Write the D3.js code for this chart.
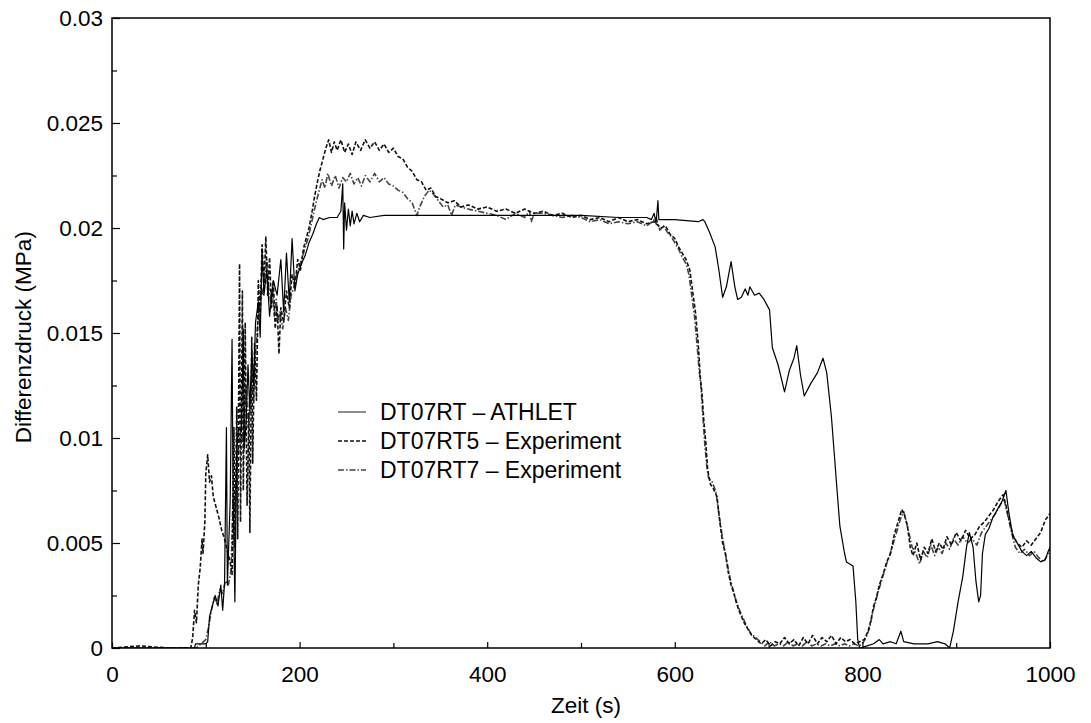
<!DOCTYPE html>
<html>
<head>
<meta charset="utf-8">
<script src="https://cdn.jsdelivr.net/npm/d3@7"></script>
<style>
  body { margin: 0; background: #fff; }
  svg { font-family: "Liberation Sans", Arial, sans-serif; }
</style>
</head>
<body>
<div id="chart"></div>
<script>
// ticks
const xTicks = [0, 200, 400, 600, 800, 1000];
const xMinor = [100, 300, 500, 700, 900];
const yTicks = [0, 0.005, 0.01, 0.015, 0.02, 0.025, 0.03];
const yMinor = [0.0025, 0.0075, 0.0125, 0.0175, 0.0225, 0.0275];

const seriesNames = ["DT07RT \u2013 ATHLET", "DT07RT5 \u2013 Experiment", "DT07RT7 \u2013 Experiment"];

// [time (s), pressure difference (MPa)]
const athlet = [
  [0, 0], [40, 0], [88, 0], [89, 0.0002], [100, 0.0002], [102, 0.0003], [104, 0.0015], [107, 0.002],
  [110, 0.0025], [113, 0.002], [116, 0.003], [118, 0.0018], [120, 0.0031], [122, 0.0105], [123, 0.003],
  [126, 0.007], [128, 0.0147], [129, 0.0075], [131, 0.0022], [133, 0.0095], [135, 0.0105], [138, 0.0103],
  [140, 0.0152], [141, 0.0095], [143, 0.0108], [145, 0.0135], [147, 0.0112], [149, 0.0142], [151, 0.0125],
  [153, 0.0155], [156, 0.0165], [158, 0.0148], [160, 0.019], [162, 0.0168], [165, 0.018], [168, 0.0158],
  [172, 0.0175], [176, 0.0168], [180, 0.0185], [183, 0.016], [186, 0.0188], [189, 0.0165], [192, 0.0195],
  [195, 0.017], [198, 0.0178], [202, 0.0183], [206, 0.0187], [210, 0.0193], [214, 0.0197], [218, 0.0202],
  [221, 0.0205], [225, 0.0204], [232, 0.0205], [240, 0.0205], [244, 0.0208], [246, 0.0221], [247, 0.019],
  [248, 0.0212], [250, 0.0199], [252, 0.0209], [254, 0.0201], [256, 0.0208], [258, 0.0202], [261, 0.0207],
  [264, 0.0203], [268, 0.0206], [275, 0.0205], [290, 0.0206], [350, 0.0206], [400, 0.0206], [450, 0.0206],
  [500, 0.0206], [540, 0.0205], [570, 0.0205], [575, 0.0204], [578, 0.0207], [580, 0.0202], [582, 0.0213],
  [583, 0.0204], [600, 0.0204], [625, 0.0203], [630, 0.0204], [632, 0.0203], [637, 0.0198], [643, 0.0191],
  [647, 0.018], [651, 0.0167], [655, 0.0172], [660, 0.0184], [664, 0.0172], [667, 0.0166], [671, 0.0167],
  [675, 0.0171], [678, 0.0168], [680, 0.0172], [685, 0.0168], [690, 0.0169], [695, 0.0166], [701, 0.0161],
  [704, 0.0143], [710, 0.0135], [717, 0.0122], [722, 0.0132], [727, 0.0138], [730, 0.0144], [734, 0.013],
  [738, 0.012], [745, 0.0126], [752, 0.0131], [758, 0.0138], [762, 0.0131], [767, 0.011], [773, 0.0075],
  [776, 0.0058], [781, 0.0045], [783, 0.0041], [790, 0.0039], [793, 0.0022], [795, 0.0004], [797, 0],
  [805, 0.0001], [812, 0.0002], [818, 0.0004], [822, 0.0002], [830, 0.0003], [836, 0.0002], [841, 0.0008],
  [844, 0.0003], [855, 0.0002], [870, 0.0002], [880, 0.0003], [888, 0.0002], [893, 0], [897, 0.0008],
  [902, 0.0022], [907, 0.0034], [911, 0.0048], [914, 0.0055], [918, 0.0048], [921, 0.0032], [924, 0.0022],
  [926, 0.0025], [928, 0.0045], [931, 0.0054], [935, 0.0057], [939, 0.0062], [944, 0.0066], [949, 0.007],
  [953, 0.0075], [956, 0.0065], [960, 0.0054], [965, 0.005], [970, 0.0046], [975, 0.0044], [980, 0.0046],
  [985, 0.0043], [990, 0.0041], [995, 0.0042], [998, 0.0046], [1000, 0.0048]
];

const rt5 = [
  [0, 0], [30, 0.0001], [60, 0], [84, 0], [86, 0.0005], [88, 0.0018], [90, 0.0012], [92, 0.003], [94, 0.0038],
  [96, 0.0052], [97, 0.0045], [99, 0.006], [100, 0.0083], [102, 0.0092], [104, 0.0079], [106, 0.0082],
  [108, 0.0072], [111, 0.0067], [114, 0.0062], [117, 0.0056], [120, 0.0052], [123, 0.0046], [126, 0.0041],
  [128, 0.0035], [130, 0.0105], [131, 0.0048], [133, 0.0115], [134, 0.0052], [136, 0.0183], [137, 0.006],
  [139, 0.017], [140, 0.0075], [142, 0.0155], [144, 0.0068], [146, 0.0112], [147, 0.0055], [149, 0.0148],
  [150, 0.0088], [152, 0.0145], [154, 0.0118], [156, 0.0175], [158, 0.0158], [160, 0.0192], [162, 0.0172],
  [164, 0.0196], [166, 0.0168], [168, 0.0186], [170, 0.0162], [172, 0.0175], [174, 0.0152], [176, 0.0163],
  [178, 0.014], [180, 0.0162], [183, 0.0155], [186, 0.017], [189, 0.0162], [192, 0.0178], [195, 0.0172],
  [198, 0.0185], [201, 0.018], [204, 0.019], [207, 0.0195], [210, 0.02], [213, 0.0207], [216, 0.0215],
  [219, 0.0222], [222, 0.0228], [225, 0.0233], [228, 0.0238], [231, 0.0242], [234, 0.0236], [237, 0.0241],
  [240, 0.0237], [244, 0.0242], [248, 0.0236], [252, 0.024], [256, 0.0235], [260, 0.0241], [265, 0.0237],
  [270, 0.0242], [275, 0.0238], [280, 0.0241], [285, 0.0237], [290, 0.024], [295, 0.0236], [300, 0.0238],
  [305, 0.0234], [310, 0.0233], [315, 0.0229], [320, 0.0227], [325, 0.0223], [330, 0.0222], [335, 0.0218],
  [340, 0.0219], [345, 0.0215], [350, 0.0214], [358, 0.0212], [365, 0.0213], [372, 0.021], [380, 0.0211],
  [390, 0.0209], [400, 0.021], [410, 0.0208], [420, 0.0209], [430, 0.0207], [440, 0.0209], [450, 0.0207],
  [460, 0.0208], [470, 0.0206], [480, 0.0207], [490, 0.0205], [500, 0.0206], [510, 0.0204], [520, 0.0205],
  [530, 0.0203], [540, 0.0205], [550, 0.0203], [560, 0.0204], [570, 0.0202], [578, 0.0203], [585, 0.02],
  [590, 0.0201], [595, 0.0197], [600, 0.0195], [604, 0.0191], [608, 0.0188], [612, 0.0185], [616, 0.018],
  [619, 0.017], [622, 0.016], [625, 0.0145], [627, 0.013], [629, 0.0121], [631, 0.0108], [633, 0.0098],
  [635, 0.0085], [638, 0.0078], [641, 0.0076], [645, 0.0072], [648, 0.006], [651, 0.005], [654, 0.0045],
  [657, 0.0036], [660, 0.003], [663, 0.0026], [666, 0.0021], [670, 0.0016], [674, 0.0012], [678, 0.0009],
  [682, 0.0006], [687, 0.0004], [692, 0.0002], [697, 0.0004], [702, 0.0001], [707, 0.0003], [712, 0.0002],
  [717, 0.0005], [722, 0.0002], [727, 0.0004], [732, 0.0001], [737, 0.0005], [742, 0.0002], [747, 0.0006],
  [752, 0.0002], [757, 0.0005], [762, 0.0003], [767, 0.0006], [772, 0.0002], [777, 0.0005], [782, 0.0003],
  [787, 0.0004], [792, 0.0002], [797, 0.0003], [802, 0.0004], [806, 0.0008], [809, 0.0013], [812, 0.002],
  [815, 0.0024], [818, 0.003], [822, 0.0035], [826, 0.0041], [830, 0.0045], [834, 0.0054], [838, 0.006],
  [842, 0.0066], [845, 0.0063], [848, 0.0058], [851, 0.0048], [854, 0.0044], [858, 0.005], [862, 0.0042],
  [866, 0.0048], [870, 0.0045], [874, 0.0052], [878, 0.0046], [882, 0.005], [886, 0.0047], [890, 0.0053],
  [895, 0.0049], [900, 0.0055], [905, 0.0051], [910, 0.0056], [915, 0.0052], [920, 0.0054], [925, 0.0058],
  [930, 0.006], [935, 0.0063], [940, 0.0066], [945, 0.007], [950, 0.0073], [953, 0.0068], [957, 0.006],
  [961, 0.0053], [965, 0.005], [970, 0.0048], [975, 0.0051], [980, 0.0049], [985, 0.0052], [990, 0.0055],
  [995, 0.0061], [1000, 0.0064]
];

const rt7 = [
  [0, 0], [90, 0], [95, 0.0002], [100, 0.0004], [103, 0.001], [106, 0.0018], [109, 0.0024], [112, 0.0021],
  [115, 0.0028], [118, 0.0026], [121, 0.0032], [124, 0.003], [127, 0.0037], [129, 0.0072], [131, 0.0065],
  [133, 0.0087], [135, 0.0095], [137, 0.0105], [139, 0.0098], [141, 0.0108], [143, 0.0125], [145, 0.0105],
  [147, 0.012], [149, 0.013], [151, 0.0118], [153, 0.014], [155, 0.0152], [157, 0.0162], [159, 0.0172],
  [161, 0.0168], [163, 0.0178], [165, 0.0185], [167, 0.0172], [169, 0.0165], [171, 0.0172], [173, 0.0158],
  [175, 0.0166], [177, 0.0155], [179, 0.016], [182, 0.0152], [185, 0.0162], [188, 0.0156], [191, 0.0168],
  [194, 0.0172], [197, 0.0178], [200, 0.0182], [203, 0.0186], [206, 0.0191], [209, 0.0195], [212, 0.0201],
  [215, 0.0207], [218, 0.0213], [221, 0.0218], [224, 0.0223], [227, 0.0219], [230, 0.0226], [234, 0.022],
  [238, 0.0225], [242, 0.0219], [246, 0.0224], [250, 0.0222], [254, 0.0226], [258, 0.0221], [262, 0.0224],
  [266, 0.022], [270, 0.0225], [275, 0.0222], [280, 0.0226], [285, 0.0222], [290, 0.0224], [295, 0.0221],
  [300, 0.022], [305, 0.0218], [310, 0.0217], [315, 0.0214], [320, 0.0212], [325, 0.0206], [328, 0.021],
  [333, 0.0215], [338, 0.0218], [343, 0.0216], [348, 0.0213], [353, 0.021], [358, 0.0211], [362, 0.0206],
  [366, 0.0211], [372, 0.021], [380, 0.0209], [390, 0.0208], [400, 0.0207], [410, 0.0206], [420, 0.0204],
  [430, 0.0207], [440, 0.0205], [445, 0.0208], [447, 0.0203], [450, 0.0207], [460, 0.0207], [470, 0.0206],
  [480, 0.0205], [490, 0.0206], [500, 0.0205], [510, 0.0203], [520, 0.0204], [530, 0.0202], [540, 0.0203],
  [550, 0.0202], [560, 0.0203], [570, 0.0201], [576, 0.0203], [580, 0.0205], [584, 0.0199], [588, 0.0201],
  [592, 0.0198], [596, 0.0196], [600, 0.0193], [604, 0.019], [608, 0.0186], [612, 0.0183], [615, 0.0178],
  [618, 0.0168], [621, 0.0158], [624, 0.0143], [626, 0.0132], [628, 0.0124], [630, 0.011], [632, 0.0097],
  [634, 0.0087], [636, 0.0081], [640, 0.0079], [644, 0.0074], [647, 0.0064], [650, 0.0055], [653, 0.0047],
  [656, 0.004], [659, 0.0033], [662, 0.0028], [665, 0.0023], [669, 0.0018], [673, 0.0014], [677, 0.001],
  [681, 0.0007], [686, 0.0005], [691, 0.0003], [696, 0.0001], [701, 0.0003], [706, 0.0001], [711, 0.0002],
  [716, 0.0001], [721, 0.0003], [726, 0.0001], [731, 0.0002], [736, 0.0001], [741, 0.0003], [746, 0.0001],
  [751, 0.0002], [756, 0.0001], [761, 0.0002], [766, 0.0001], [771, 0.0002], [776, 0.0001], [781, 0.0002],
  [786, 0.0001], [791, 0.0002], [796, 0.0001], [800, 0.0002], [804, 0.0005], [808, 0.001], [811, 0.0017],
  [814, 0.0022], [817, 0.0027], [821, 0.0033], [825, 0.0039], [829, 0.0044], [833, 0.005], [837, 0.0056],
  [841, 0.0062], [844, 0.0065], [847, 0.006], [850, 0.0054], [853, 0.0048], [857, 0.0045], [861, 0.004],
  [865, 0.0046], [869, 0.0043], [873, 0.0049], [877, 0.0044], [881, 0.0048], [885, 0.0045], [889, 0.005],
  [893, 0.0047], [897, 0.0052], [902, 0.0049], [907, 0.0053], [912, 0.005], [917, 0.0052], [922, 0.0049],
  [927, 0.0055], [932, 0.0058], [937, 0.0061], [942, 0.0064], [947, 0.0068], [951, 0.0071], [955, 0.0063],
  [959, 0.0055], [963, 0.0048], [968, 0.0045], [973, 0.0047], [978, 0.0044], [983, 0.0046], [988, 0.0043],
  [993, 0.0041], [997, 0.0044], [1000, 0.0047]
];

let width = 1091, height = 723;
let margin = {top: 18, right: 41, bottom: 75, left: 112};
let w = width - margin.left - margin.right,
    h = height - margin.top - margin.bottom;

let x = d3.scaleLinear().domain([0, 1000]).range([0, w]);
let y = d3.scaleLinear().domain([0, 0.03]).range([h, 0]);

let svg = d3.select("#chart").append("svg")
  .attr("width", width)
  .attr("height", height);
let g = svg.append("g")
  .attr("transform", "translate(" + margin.left + "," + margin.top + ")");

let line = d3.line()
  .x((d) => x(d[0]))
  .y((d) => y(d[1]));

// styles per series
let styles = [
  {data: athlet, color: "#000", width: 1.2, dash: null},
  {data: rt5, color: "#111", width: 1.6, dash: "4,2"},
  {data: rt7, color: "#444", width: 1.6, dash: "6,2,1.5,2"},
];

g.append("defs").append("clipPath").attr("id", "clip")
  .append("rect").attr("width", w).attr("height", h);

let plot = g.append("g").attr("clip-path", "url(#clip)");
// draw experiments first so the ATHLET line stays on top
[2, 1, 0].forEach((i) => {
  let s = styles[i];
  plot.append("path")
    .datum(s.data)
    .attr("fill", "none")
    .attr("stroke", s.color)
    .attr("stroke-width", s.width)
    .attr("stroke-dasharray", s.dash)
    .attr("stroke-linejoin", "round")
    .attr("d", line);
});

// axes, ticks pointing inward
let fmt = (d) => String(+d.toFixed(4));
g.append("g")
  .call(d3.axisLeft(y).tickValues(yTicks).tickSize(-8).tickPadding(9).tickFormat(fmt));
g.append("g")
  .call(d3.axisLeft(y).tickValues(yMinor).tickSize(-5).tickFormat(""));
g.append("g")
  .attr("transform", "translate(0," + h + ")")
  .call(d3.axisBottom(x).tickValues(xTicks).tickSize(-6).tickPadding(18).tickFormat(fmt));
g.append("g")
  .attr("transform", "translate(0," + h + ")")
  .call(d3.axisBottom(x).tickValues(xMinor).tickSize(-5).tickFormat(""));

g.selectAll(".domain").remove();
g.selectAll(".tick line").attr("stroke", "#000").attr("stroke-width", 1.2);
g.selectAll(".tick text")
  .attr("font-size", "22.5px")
  .attr("font-family", "Liberation Sans, Arial, sans-serif")
  .attr("fill", "#000");

// frame
g.append("rect")
  .attr("width", w)
  .attr("height", h)
  .attr("fill", "none")
  .attr("stroke", "#000")
  .attr("stroke-width", 1.5);

// axis titles
svg.append("text")
  .attr("x", margin.left + x(500) + 5)
  .attr("y", 713)
  .attr("text-anchor", "middle")
  .attr("font-size", "22.5px")
  .text("Zeit (s)");
svg.append("text")
  .attr("transform", "translate(31," + (margin.top + y(0.0148)) + ") rotate(-90)")
  .attr("text-anchor", "middle")
  .attr("font-size", "22.5px")
  .text("Differenzdruck (MPa)");

// legend
let legend = svg.append("g").attr("transform", "translate(338,412)");
seriesNames.forEach((name, i) => {
  let s = styles[i];
  let row = legend.append("g").attr("transform", "translate(0," + (i * 29) + ")");
  row.append("line")
    .attr("x1", 0).attr("x2", 28)
    .attr("stroke", s.color)
    .attr("stroke-width", s.width - 0.3)
    .attr("stroke-dasharray", s.dash);
  row.append("text")
    .attr("x", 42)
    .attr("dy", "0.36em")
    .attr("font-size", "23px")
    .text(name);
});
</script>
</body>
</html>
